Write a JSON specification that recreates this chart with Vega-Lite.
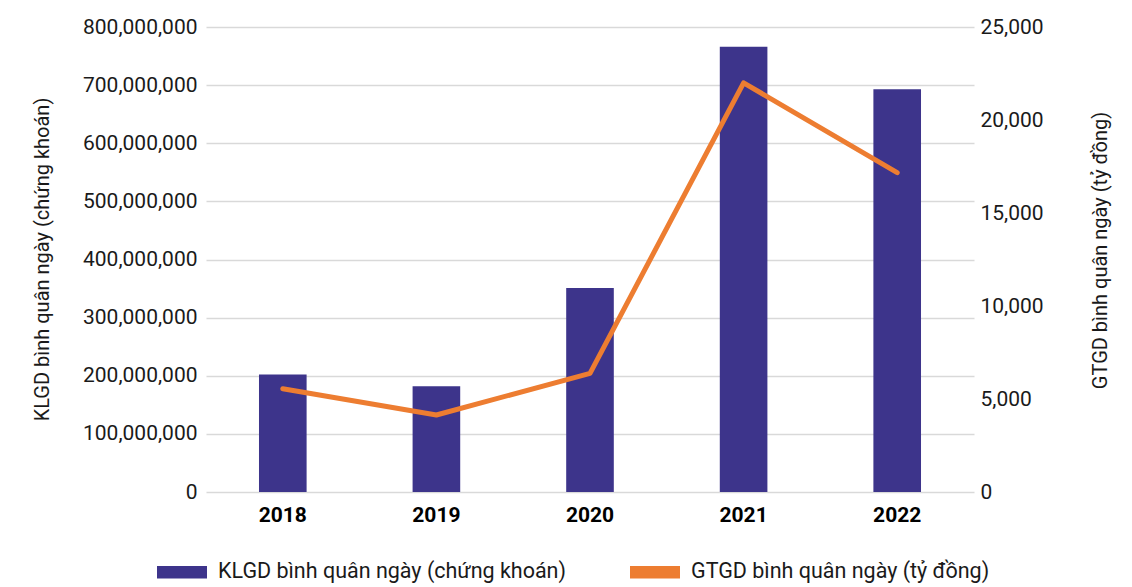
{
  "$schema": "https://vega.github.io/schema/vega-lite/v6.json",
  "autosize": {"type": "none"},
  "width": 768,
  "height": 465,
  "padding": {"left": 206, "top": 27, "right": 158, "bottom": 95},
  "background": "white",
  "config": {
    "view": {"stroke": null},
    "font": "Roboto",
    "axis": {"labelFont": "Roboto", "titleFont": "Roboto", "labelColor": "#1a1a1a", "titleColor": "#1a1a1a", "titleFontWeight": "normal"},
    "legend": {"labelFont": "Roboto"}
  },
  "data": {
    "values": [
      {"year": "2018", "klgd": 202000000, "gtgd": 5550},
      {"year": "2019", "klgd": 182000000, "gtgd": 4140},
      {"year": "2020", "klgd": 351000000, "gtgd": 6380},
      {"year": "2021", "klgd": 766000000, "gtgd": 22000},
      {"year": "2022", "klgd": 693000000, "gtgd": 17170}
    ]
  },
  "encoding": {
    "x": {
      "field": "year",
      "type": "ordinal",
      "scale": {"paddingInner": 0.69, "paddingOuter": 0.345},
      "axis": {"title": null, "labelAngle": 0, "labelFontWeight": "bold", "labelFontSize": 21, "labelPadding": 12, "domain": false, "ticks": false, "labelColor": "#000000"}
    }
  },
  "layer": [
    {
      "mark": {"type": "bar", "color": "#3d348b"},
      "encoding": {
        "y": {
          "field": "klgd",
          "type": "quantitative",
          "scale": {"domain": [0, 800000000]},
          "axis": {
            "title": "KLGD bình quân ngày (chứng khoán)",
            "values": [0, 100000000, 200000000, 300000000, 400000000, 500000000, 600000000, 700000000, 800000000],
            "format": ",d",
            "labelFontSize": 21,
            "labelPadding": 9,
            "titleFontSize": 20,
            "titleAngle": -90,
            "titleX": -164,
            "titleY": 232,
            "titleAlign": "center",
            "titleBaseline": "middle",
            "domain": false,
            "ticks": false,
            "grid": true,
            "gridColor": "#d9d9d9",
            "gridWidth": 1.5
          }
        },
        "color": {
          "datum": "KLGD bình quân ngày (chứng khoán)",
          "type": "nominal",
          "scale": {"domain": ["KLGD bình quân ngày (chứng khoán)", "GTGD bình quân ngày (tỷ đồng)"], "range": ["#3d348b", "#ed7d31"]},
          "legend": {
            "title": null,
            "orient": "none",
            "direction": "horizontal",
            "columns": 2,
            "legendX": -49,
            "legendY": 520,
            "symbolType": "M-1,-0.25L1,-0.25L1,0.25L-1,0.25Z",
            "symbolSize": 2500,
            "symbolStrokeWidth": 0,
            "symbolOpacity": 1,
            "labelFontSize": 21.5,
            "labelOffset": 11,
            "labelLimit": 500,
            "labelColor": "#1a1a1a",
            "columnPadding": 64,
            "padding": 0,
            "encode": {"symbols": {"update": {"fill": {"scale": "color", "field": "value"}, "strokeWidth": {"value": 0}}}}
          }
        }
      }
    },
    {
      "mark": {"type": "line", "strokeWidth": 5, "color": "#ed7d31", "strokeCap": "round", "strokeJoin": "round"},
      "encoding": {
        "y": {
          "field": "gtgd",
          "type": "quantitative",
          "scale": {"domain": [0, 25000]},
          "axis": {
            "orient": "right",
            "title": "GTGD bình quân ngày (tỷ đồng)",
            "values": [0, 5000, 10000, 15000, 20000, 25000],
            "format": ",d",
            "labelFontSize": 21,
            "labelPadding": 6,
            "titleFontSize": 20,
            "titleAngle": -90,
            "titleX": 126,
            "titleY": 223,
            "titleAlign": "center",
            "titleBaseline": "middle",
            "domain": false,
            "ticks": false,
            "grid": false
          }
        },
        "color": {"datum": "GTGD bình quân ngày (tỷ đồng)", "type": "nominal"}
      }
    }
  ],
  "resolve": {"scale": {"y": "independent"}}
}
